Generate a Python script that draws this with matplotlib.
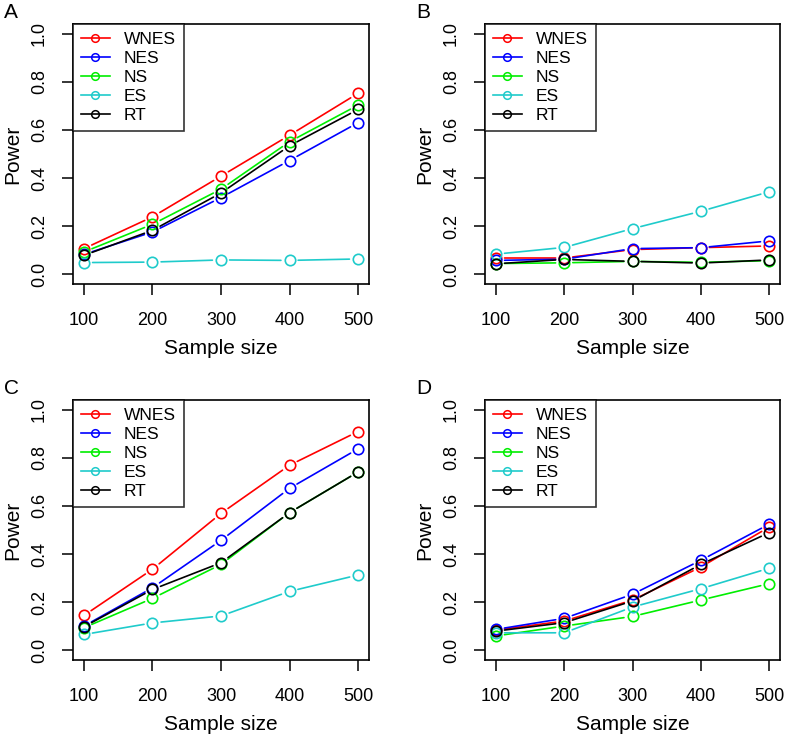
import matplotlib
matplotlib.use("Agg")
from matplotlib import pyplot as plt
from matplotlib.lines import Line2D

plt.rcParams['font.family'] = ['Liberation Sans', 'DejaVu Sans']

sample_size = [100, 200, 300, 400, 500]
methods = ['WNES', 'NES', 'NS', 'ES', 'RT']
colores = ['#FF0000', '#0000FF', '#00EE00', '#1FCBCB', '#000000']
paneles = ['A', 'B', 'C', 'D']

power_a = {
    'WNES': [0.107, 0.239, 0.408, 0.578, 0.752],
    'NES': [0.083, 0.176, 0.319, 0.473, 0.630],
    'NS': [0.093, 0.208, 0.354, 0.551, 0.703],
    'ES': [0.049, 0.051, 0.060, 0.058, 0.064],
    'RT': [0.079, 0.183, 0.338, 0.534, 0.685],
}
power_b = {
    'WNES': [0.068, 0.068, 0.103, 0.111, 0.118],
    'NES': [0.058, 0.063, 0.107, 0.111, 0.139],
    'NS': [0.045, 0.048, 0.054, 0.050, 0.057],
    'ES': [0.084, 0.112, 0.190, 0.262, 0.343],
    'RT': [0.044, 0.062, 0.054, 0.047, 0.060],
}
power_c = {
    'WNES': [0.145, 0.337, 0.569, 0.769, 0.909],
    'NES': [0.101, 0.260, 0.457, 0.673, 0.837],
    'NS': [0.094, 0.216, 0.357, 0.572, 0.741],
    'ES': [0.066, 0.114, 0.143, 0.245, 0.313],
    'RT': [0.098, 0.253, 0.364, 0.572, 0.741],
}
power_d = {
    'WNES': [0.084, 0.122, 0.209, 0.346, 0.512],
    'NES': [0.087, 0.133, 0.233, 0.374, 0.524],
    'NS': [0.060, 0.101, 0.141, 0.209, 0.277],
    'ES': [0.073, 0.073, 0.180, 0.256, 0.341],
    'RT': [0.080, 0.115, 0.205, 0.357, 0.489],
}
datos = [power_a, power_b, power_c, power_d]

# axes boxes in figure pixels (left, top, right, bottom)
W, H = 787, 737
cajas = [(73, 24, 369, 284), (485, 24, 780, 284),
         (73, 400, 369, 660), (485, 400, 780, 660)]

fig = plt.figure(figsize=(W / 100, H / 100), dpi=100)

for panel, power, caja in zip(paneles, datos, cajas):
    l, t, r, b = caja
    ax = fig.add_axes([l / W, (H - b) / H, (r - l) / W, (b - t) / H])
    for m, c in zip(methods, colores):
        y = power[m]
        # type="b": segments stop short of the circles
        for i in range(len(sample_size) - 1):
            ax.annotate('', xy=(sample_size[i + 1], y[i + 1]),
                        xytext=(sample_size[i], y[i]),
                        arrowprops=dict(arrowstyle='-', color=c, lw=1.2,
                                        shrinkA=6.2, shrinkB=6.2))
        ax.plot(sample_size, y, 'o', ms=7.5, mfc='none', mec=c, mew=1.2,
                linestyle='none')

    ax.set_xlim(84, 516)
    ax.set_ylim(-0.04, 1.04)
    ax.set_xticks(sample_size)
    ax.set_yticks([0.0, 0.2, 0.4, 0.6, 0.8, 1.0])
    ax.set_yticklabels(['0.0', '0.2', '0.4', '0.6', '0.8', '1.0'],
                       rotation=90, va='center')
    ax.tick_params(direction='out', length=8, width=1.1, labelsize=13,
                   pad=10)
    ax.tick_params(axis='x', pad=12)
    for s in ax.spines.values():
        s.set_linewidth(1.2)
    ax.set_xlabel('Sample size', fontsize=15, labelpad=7)
    ax.set_ylabel('Power', fontsize=15, labelpad=6)

    handles = [Line2D([], [], color=c, lw=1.2, marker='o', ms=5.5,
                      mfc='none', mew=1.1) for c in colores]
    leg = ax.legend(handles, methods, loc='upper left', fontsize=12.5,
                    frameon=True, fancybox=False, borderaxespad=0,
                    handlelength=1.67, handletextpad=0.8, labelspacing=0.22,
                    borderpad=0.45)
    leg.get_frame().set_edgecolor('black')
    leg.get_frame().set_linewidth(1.2)

    fig.text((l - 69) / W, 1 - (t - 21) / H, panel, fontsize=15,
             va='top', ha='left')

fig.savefig('out.png', dpi=100)
